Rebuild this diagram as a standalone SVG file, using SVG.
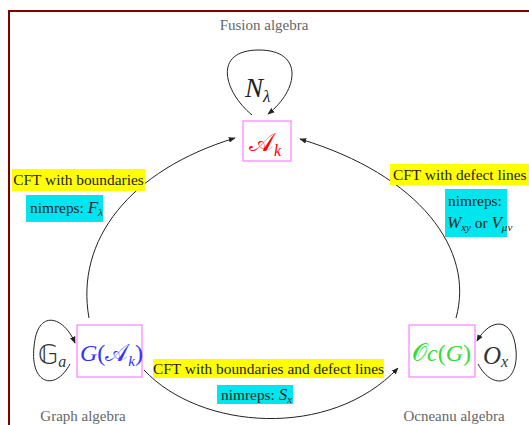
<svg xmlns="http://www.w3.org/2000/svg" width="529" height="425" viewBox="0 0 529 425">
<defs>
<style>
.frame{fill:none;stroke:#800000;stroke-width:2}
.box{fill:#fff;stroke:#ff80ff;stroke-width:1.2}
.edge{fill:none;stroke:#222;stroke-width:1}
.lbl{font-family:"Liberation Serif",serif;font-size:15.4px;fill:#222}
.cap{font-family:"Liberation Serif",serif;font-size:15px;fill:#666}
.math{font-family:"Liberation Serif","DejaVu Serif",serif;font-style:italic}
.ms{font-family:"DejaVu Sans","DejaVu Serif",serif;font-style:normal}
.yel{fill:#ffff00}
.cya{fill:#00e5ee}
</style>
<marker id="ah" viewBox="0 0 10 10" refX="9" refY="5" markerWidth="7" markerHeight="7" orient="auto" markerUnits="userSpaceOnUse">
<path d="M0,1 L10,5 L0,9 Z" fill="#222"/>
</marker>
</defs>
<rect width="529" height="425" fill="#fff"/>
<rect class="frame" x="9" y="11" width="540" height="440"/>
<g id="connectors">
<path class="edge" marker-end="url(#ah)" d="M252,115 C224,92 212,50 259,50 C304,50 299,90 268,114"/>
<path class="edge" marker-end="url(#ah)" d="M89,318 C75,240 130,170 235,138"/>
<path class="edge" marker-end="url(#ah)" d="M456,318 C475,250 420,175 300,139"/>
<path class="edge" marker-end="url(#ah)" d="M144,370 C200,430 330,440 398,368"/>
<path class="edge" marker-end="url(#ah)" d="M70,364 C55,392 30,384 34,347 C37,308 64,316 75,343"/>
<path class="edge" marker-end="url(#ah)" d="M478,364 C493,392 519,384 516,350 C513,316 490,318 477,341"/>
</g>
<g id="labels">
<text class="cap" x="264" y="30" text-anchor="middle">Fusion algebra</text>
<text class="cap" x="83" y="421" text-anchor="middle">Graph algebra</text>
<text class="cap" x="454" y="421" text-anchor="middle">Ocneanu algebra</text>
<text class="math" x="245" y="97" font-size="27" fill="#222">N<tspan font-size="17" dy="5">λ</tspan></text>
<text class="math" x="38" y="364" font-size="26" fill="#333"><tspan class="ms">𝔾</tspan><tspan font-size="16" dy="3">a</tspan></text>
<text class="math" x="483" y="364" font-size="25" fill="#333">O<tspan font-size="16" dy="3">x</tspan></text>
</g>
<g id="edge-left-label">
<rect class="yel" x="12" y="169" width="133" height="22"/>
<text class="lbl" x="78.5" y="185" text-anchor="middle">CFT with boundaries</text>
<rect class="cya" x="26" y="195" width="77" height="27"/>
<text class="lbl" x="30" y="213">nimreps: <tspan class="math" font-size="17">F</tspan><tspan class="math" font-size="11" dy="3">λ</tspan></text>
</g>
<g id="edge-right-label">
<rect class="yel" x="390" y="164" width="139" height="21"/>
<text class="lbl" x="393" y="180">CFT with defect lines</text>
<rect class="cya" x="445" y="189" width="62" height="48"/>
<text class="lbl" x="448" y="206">nimreps:</text>
<text class="lbl" x="447" y="228"><tspan class="math" font-size="17">W</tspan><tspan class="math" font-size="11" dy="3">xy</tspan><tspan dy="-3"> or </tspan><tspan class="math" font-size="17">V</tspan><tspan class="math" font-size="11" dy="3">μν</tspan></text>
</g>
<g id="edge-bottom-label">
<rect class="yel" x="153" y="359" width="231" height="19"/>
<text class="lbl" x="268.5" y="374" text-anchor="middle">CFT with boundaries and defect lines</text>
<rect class="cya" x="217" y="385" width="76" height="19"/>
<text class="lbl" x="221" y="400">nimreps: <tspan class="math" font-size="17">S</tspan><tspan class="math" font-size="11" dy="3">x</tspan></text>
</g>
<g id="node-fusion">
<rect class="box" x="243" y="121" width="48" height="40"/>
<text class="math" x="249" y="151" font-size="26" fill="#ff0000"><tspan class="ms">𝒜</tspan><tspan font-size="16" dy="5">k</tspan></text>
</g>
<g id="node-graph">
<rect class="box" x="77" y="325" width="65" height="52"/>
<text class="math" x="80" y="361" font-size="24" fill="#3333ff">G<tspan font-style="normal">(</tspan><tspan class="ms">𝒜</tspan><tspan font-size="15" dy="5">k</tspan><tspan font-style="normal" dy="-5">)</tspan></text>
</g>
<g id="node-ocneanu">
<rect class="box" x="409" y="325" width="66" height="52"/>
<text class="math" x="412" y="361" font-size="24" fill="#33dd33"><tspan class="ms">𝒪</tspan>c<tspan font-style="normal">(</tspan>G<tspan font-style="normal">)</tspan></text>
</g>
</svg>
